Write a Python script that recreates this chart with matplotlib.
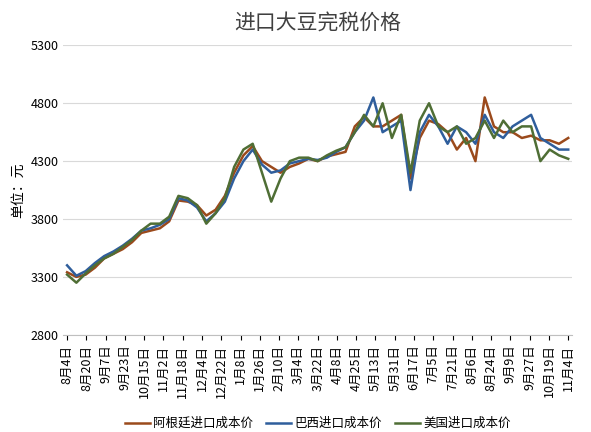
import matplotlib
matplotlib.use("Agg")
import matplotlib.pyplot as plt
import numpy as np

plt.rcParams['font.family'] = ['Noto Sans CJK SC', 'DejaVu Sans']

tick_labels = ["8月4日","8月20日","9月7日","9月23日","10月15日","11月2日","11月18日","12月4日","12月22日",
               "1月8日","1月26日","2月10日","3月4日","3月22日","4月8日","4月25日","5月13日","5月31日",
               "6月17日","7月5日","7月21日","8月6日","8月24日","9月9日","9月27日","10月19日","11月4日"]

argentina = [3340,3300,3320,3380,3460,3500,3540,3600,3680,3700,3720,3780,3960,3950,3920,3830,3880,4000,
             4200,4350,4430,4300,4250,4200,4250,4280,4320,4300,4340,4360,4380,4600,4680,4600,
             4600,4650,4700,4150,4500,4650,4620,4550,4400,4500,4300,4850,4600,4550,4550,4500,4520,4480,4480,4450,4500]
brazil = [3400,3310,3350,3420,3480,3520,3570,3630,3700,3720,3750,3800,3980,3960,3900,3780,3850,3950,
          4150,4300,4400,4270,4200,4220,4280,4300,4320,4310,4330,4380,4420,4550,4650,4850,
          4550,4600,4650,4050,4550,4700,4600,4450,4600,4550,4450,4700,4550,4500,4600,4650,4700,4500,4450,4400,4400]
usa = [3320,3250,3330,3400,3460,3500,3560,3620,3700,3760,3760,3820,4000,3980,3920,3760,3850,3980,
       4250,4400,4450,4200,3950,4150,4300,4330,4330,4300,4350,4390,4420,4550,4700,4600,
       4800,4500,4700,4200,4650,4800,4600,4550,4600,4450,4500,4650,4500,4650,4550,4600,4600,4300,4400,4350,4320]

x = np.linspace(0, len(tick_labels) - 1, len(argentina))

fig, ax = plt.subplots(figsize=(5.91, 4.32), dpi=100)
fig.subplots_adjust(left=0.107, right=0.968, top=0.895, bottom=0.225)
ax.plot(x, argentina, color='#9B4A1C', lw=1.8, label='阿根廷进口成本价')
ax.plot(x, brazil, color='#2F5E9C', lw=1.8, label='巴西进口成本价')
ax.plot(x, usa, color='#4F6E35', lw=1.8, label='美国进口成本价')

ax.set_ylim(2800, 5300)
ax.set_yticks([2800, 3300, 3800, 4300, 4800, 5300])
ax.set_xlim(-0.2, len(tick_labels) - 0.8)
ax.set_xticks(range(len(tick_labels)))
ax.set_xticklabels(tick_labels, rotation=90, fontsize=9)
ax.tick_params(axis='y', labelsize=9, length=0)
ax.grid(axis='y', color='#D9D9D9', lw=0.8)
for s in ['top', 'right', 'left']:
    ax.spines[s].set_visible(False)
ax.spines['bottom'].set_color('#BFBFBF')
ax.set_ylabel('单位：元', fontsize=10)
ax.set_title('进口大豆完税价格', fontsize=15, pad=12, color='#404040')
ax.legend(loc='upper center', bbox_to_anchor=(0.5, -0.245), ncol=3, frameon=False,
          fontsize=9, handlelength=2, columnspacing=1.0, handletextpad=0.3)
fig.savefig('out.png', dpi=100)
